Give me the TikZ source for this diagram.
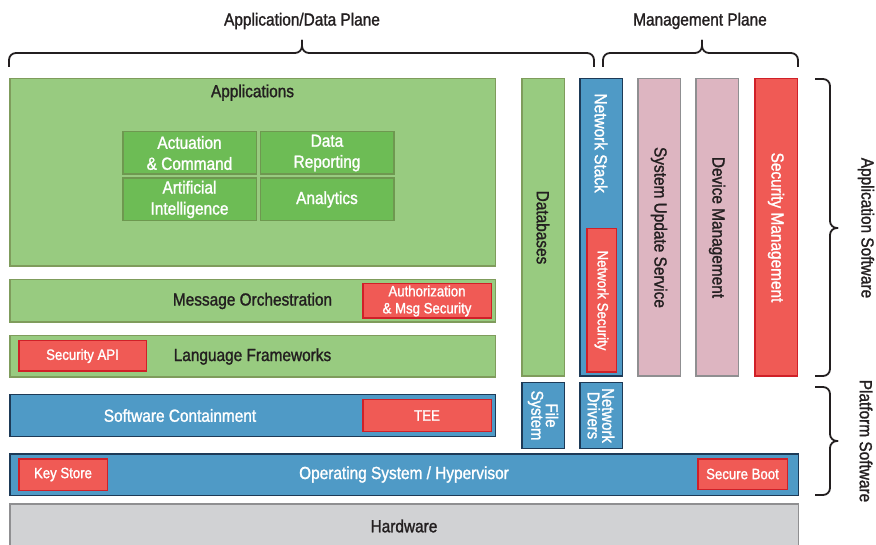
\documentclass[tikz,border=0pt]{standalone}
\usepackage{fontspec}
\setmainfont{Liberation Sans}[FakeStretch=0.88, FakeBold=1.4]
\usetikzlibrary{positioning}

\definecolor{appgreen}{HTML}{98CB80}
\definecolor{appgreenline}{HTML}{7F9C5C}
\definecolor{midgreen}{HTML}{6DBC55}
\definecolor{midgreenline}{HTML}{6E9850}
\definecolor{platblue}{HTML}{4F9AC6}
\definecolor{platblueline}{HTML}{1D3A57}
\definecolor{secred}{HTML}{F05A55}
\definecolor{secredline}{HTML}{D02028}
\definecolor{mgmtpink}{HTML}{DDB5C1}
\definecolor{boxgray}{HTML}{8F8F91}
\definecolor{hwgray}{HTML}{D1D2D4}
\definecolor{inktext}{HTML}{231F20}

\begin{document}
\begin{tikzpicture}[
    x=1pt, y=-1pt,
    layerbox/.style={draw, rectangle, line width=1.5pt, inner sep=0pt, align=center, font=\fontsize{17.5}{20}\selectfont},
    appbox/.style={layerbox, fill=appgreen, draw=appgreenline, text=inktext},
    funcbox/.style={layerbox, fill=midgreen, draw=midgreenline, text=white, minimum width=133.5pt, minimum height=42.5pt, font=\fontsize{17.5}{21}\selectfont},
    platbox/.style={layerbox, fill=platblue, draw=platblueline, text=white},
    secbox/.style={layerbox, fill=secred, draw=secredline, text=white, font=\fontsize{15}{17}\selectfont},
    mgmtbox/.style={layerbox, fill=mgmtpink, draw=boxgray, text=inktext},
    hwbox/.style={layerbox, fill=hwgray, draw=boxgray, text=inktext},
    pillar/.style={rotate=-90, minimum width=297.5pt, minimum height=42.5pt},
    heading/.style={text=inktext, font=\fontsize{17.5}{20}\selectfont},
    grouping/.style={draw=inktext, line width=1.8pt, rounded corners=7pt}
]
    \useasboundingbox (0,0) rectangle (876,545);

    % application / data plane
    \node[appbox, minimum width=485.5pt, minimum height=187.5pt] (apps) at (252.5,172.5) {};
    \node[heading, below=3pt of apps.north] (appstitle) {Applications};
    \node[funcbox] (actuation) at (189.5,153) {Actuation\\\& Command};
    \node[funcbox, right=2.5pt of actuation] (reporting) {Data\\Reporting};
    \node[funcbox, below=2.5pt of actuation] (ai) {Artificial\\Intelligence};
    \node[funcbox, right=2.5pt of ai] (analytics) {Analytics};

    \node[appbox, minimum width=485.5pt, minimum height=42.5pt] (orchestration) at (252.5,301) {Message Orchestration};
    \node[secbox, minimum width=128.5pt, minimum height=34.5pt] (authz) at (427,301) {Authorization\\\& Msg Security};

    \node[appbox, minimum width=485.5pt, minimum height=41.5pt] (frameworks) at (252.5,356.5) {Language Frameworks};
    \node[secbox, minimum width=127.5pt, minimum height=30.5pt] (secapi) at (82.5,356) {Security API};

    % platform
    \node[platbox, minimum width=485.5pt, minimum height=41.5pt] (containment) at (252.5,415.5) {};
    \node[heading, text=white] (containlbl) at (180,415.5) {Software Containment};
    \node[secbox, minimum width=128.5pt, minimum height=31.5pt] (tee) at (427,415.5) {TEE};

    \node[platbox, minimum width=788.5pt, minimum height=41.5pt] (os) at (404,474.5) {Operating System / Hypervisor};
    \node[secbox, minimum width=88.5pt, minimum height=31.5pt] (keystore) at (63,474.5) {Key Store};
    \node[secbox, minimum width=89.5pt, minimum height=30.5pt] (secboot) at (742.5,474) {Secure Boot};

    \node[hwbox, minimum width=788.5pt, minimum height=44pt] (hardware) at (404,526) {Hardware};

    % vertical columns
    \node[appbox, pillar] (databases) at (543,227.5) {Databases};
    \node[platbox, pillar] (netstack) at (601,227.5) {};
    \node[heading, text=white, rotate=-90, anchor=west] (netstacklbl) at (601,90) {Network Stack};
    \node[secbox, rotate=-90, minimum width=143.5pt, minimum height=29.5pt] (netsec) at (601.5,300.5) {Network Security};
    \node[mgmtbox, pillar] (sysupdate) at (659,227.5) {System Update Service};
    \node[mgmtbox, pillar] (devmgmt) at (717,227.5) {Device Management};
    \node[secbox, pillar, font=\fontsize{17.5}{20}\selectfont] (secmgmt) at (776,227.5) {Security Management};

    \node[platbox, rotate=-90, minimum width=65.5pt, minimum height=42.5pt, font=\fontsize{17}{14.5}\selectfont] (filesys) at (543,415.5) {File\\System};
    \node[platbox, rotate=-90, minimum width=65.5pt, minimum height=42.5pt, font=\fontsize{17}{14.5}\selectfont] (netdrivers) at (601,415.5) {Network\\Drivers};

    % braces
    \coordinate (adpleft) at (9,67);
    \coordinate (adpright) at (594,67);
    \coordinate (adpmid) at (302,53);
    \coordinate (adptip) at (302,40);
    \coordinate (mpleft) at (603,67);
    \coordinate (mpright) at (798,67);
    \coordinate (mpmid) at (702,53);
    \coordinate (mptip) at (702,40);
    \draw[grouping] (adpleft) |- (adpmid) -- (adptip);
    \draw[grouping] (adpright) |- (adpmid) -- (adptip);
    \draw[grouping] (mpleft) |- (mpmid) -- (mptip);
    \draw[grouping] (mpright) |- (mpmid) -- (mptip);
    \node[heading] (adptitle) at (302,21) {Application/Data Plane};
    \node[heading] (mptitle) at (700,21) {Management Plane};

    \coordinate (aswtop) at (815,79);
    \coordinate (aswbottom) at (815,376);
    \coordinate (aswmid) at (830,228);
    \coordinate (aswtip) at (838,228);
    \coordinate (pswtop) at (815,387);
    \coordinate (pswbottom) at (815,495);
    \coordinate (pswmid) at (830,441);
    \coordinate (pswtip) at (838,441);
    \draw[grouping] (aswtop) -| (aswmid) -- (aswtip);
    \draw[grouping] (aswbottom) -| (aswmid) -- (aswtip);
    \draw[grouping] (pswtop) -| (pswmid) -- (pswtip);
    \draw[grouping] (pswbottom) -| (pswmid) -- (pswtip);
    \node[heading, rotate=-90] (appswlbl) at (866,228) {Application Software};
    \node[heading, rotate=-90] (platswlbl) at (866,441) {Platform Software};
\end{tikzpicture}
\end{document}
